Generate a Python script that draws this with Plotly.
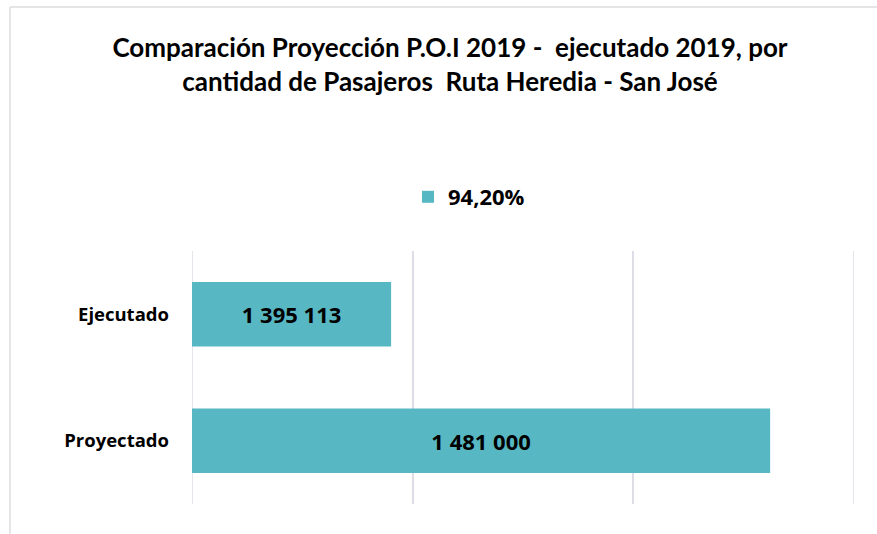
import plotly.graph_objects as go

categories = ["Proyectado", "Ejecutado"]
values = [1481000, 1395113]
series_name = "94,20%"
title_text = "Comparación Proyección P.O.I 2019 -  ejecutado 2019, por<br>cantidad de Pasajeros  Ruta Heredia - San José"
x_range = [1350000, 1500000]
x_dtick = 50000

labels = [f"{v:,}".replace(",", " ") for v in values]

W, H = 877, 534
L, R, T, B = 192, 23, 251, 30
pw, ph = W - L - R, H - T - B
frame = "#DCDCE0"
grid = "#DEDDE6"

fig = go.Figure()
fig.add_trace(go.Bar(
    y=categories, x=[v - x_range[0] for v in values], base=x_range[0],
    orientation="h", name=series_name,
    marker=dict(color="#57B8C3", line=dict(width=0)),
    text=labels, textposition="inside", insidetextanchor="middle",
    textfont=dict(family="Open Sans", size=22, color="black", weight="bold"),
    showlegend=True,
))

shapes = [
    dict(type="line", xref="paper", yref="paper", x0=(10 - L) / pw, x1=(10 - L) / pw,
         y0=(H - B - 7) / ph, y1=-(B + 5) / ph, line=dict(color=frame, width=1.5)),
    dict(type="line", xref="paper", yref="paper", x0=(10 - L) / pw, x1=(W + 5 - L) / pw,
         y0=(H - B - 7) / ph, y1=(H - B - 7) / ph, line=dict(color=frame, width=1.5)),
]
for xv in x_range:
    shapes.append(dict(type="line", xref="x", yref="paper", x0=xv, x1=xv, y0=0, y1=1,
                       line=dict(color=grid, width=1.5), layer="below"))

fig.update_layout(
    width=W, height=H,
    margin=dict(l=L, r=R, t=T, b=B),
    paper_bgcolor="white", plot_bgcolor="white",
    bargap=0.49,
    title=dict(text=title_text, x=450 / W, xanchor="center", y=1 - 57 / H, yanchor="middle",
               font=dict(family="Lato", size=26, color="black", weight="bold")),
    legend=dict(orientation="h", x=(408 - L) / pw, xanchor="left", y=(H - B - 197) / ph, yanchor="middle",
                font=dict(family="Open Sans", size=22, color="black", weight="bold"),
                itemwidth=30, bgcolor="rgba(0,0,0,0)"),
    xaxis=dict(range=x_range, dtick=x_dtick, tick0=x_range[0], showticklabels=False, showgrid=True,
               gridcolor=grid, gridwidth=1.5, zeroline=False, showline=False, ticks=""),
    yaxis=dict(showgrid=False, zeroline=False, showline=False, ticks="",
               tickfont=dict(family="Open Sans", size=18.5, color="black", weight="bold"),
               ticklabelstandoff=22),
    shapes=shapes,
)

fig.write_html("out.html", config={"displayModeBar": False},
               post_script="document.body.style.margin='0';")
